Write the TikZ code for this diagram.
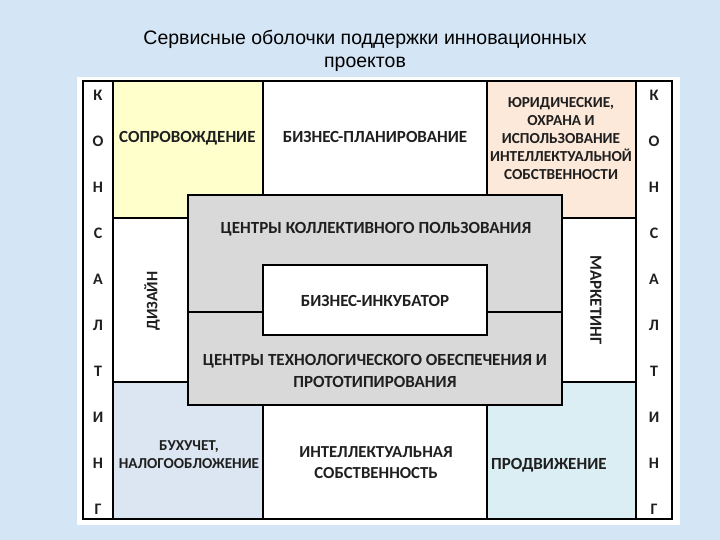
\documentclass[tikz,border=0pt]{standalone}
\usepackage{fontspec}
\setmainfont{Carlito}
\newfontfamily\titlefont{Liberation Sans}
\definecolor{bgblue}{RGB}{212,229,246}
\definecolor{cyellow}{RGB}{255,255,204}
\definecolor{cpeach}{RGB}{253,233,217}
\definecolor{cbluegray}{RGB}{220,230,242}
\definecolor{ccyan}{RGB}{218,238,243}
\definecolor{cgray}{RGB}{217,217,217}
\tikzset{
  cell/.style={draw=black, line width=2pt, inner sep=0pt, outer sep=0pt, rectangle},
  grayblock/.style={cell, fill=cgray, line width=2.5pt},
  lbl/.style={font=\bfseries\fontsize{17}{20}\selectfont, text=black!88, inner sep=0pt, align=center},
  letter/.style={font=\bfseries\fontsize{16}{18}\selectfont, text=black!88, inner sep=0pt},
}
\begin{document}
\begin{tikzpicture}[x=1pt,y=-1pt]
\useasboundingbox (0,0) rectangle (720,540);
\fill[bgblue] (0,0) rectangle (720,540);
% title
\node[font=\titlefont\fontsize{19.5}{23.5}\selectfont, align=center, inner sep=0pt] (title) at (365,51)
  {Сервисные оболочки поддержки инновационных\\проектов};
% white frame
\node[rectangle, fill=white, inner sep=0pt, minimum width=603pt, minimum height=448pt] (frame) at (378.5,301) {};
% outer border with consulting columns
\node[cell, minimum width=589pt, minimum height=438pt] (border) at (377.5,300) {};
\node[cell, minimum width=30pt, minimum height=438pt] (lcol) at (98,300) {};
\node[cell, minimum width=36pt, minimum height=438pt] (rcol) at (654,300) {};
% top row
\node[cell, fill=cyellow, minimum width=150pt, minimum height=137pt] (sopr) at (188,149.5) {};
\node[cell, fill=white, minimum width=224pt, minimum height=137pt] (bplan) at (375,149.5) {};
\node[cell, fill=cpeach, minimum width=149pt, minimum height=137pt] (jur) at (561.5,149.5) {};
% middle row
\node[cell, fill=white, minimum width=150pt, minimum height=164pt] (diz) at (188,300) {};
\node[cell, fill=white, minimum width=149pt, minimum height=164pt] (mark) at (561.5,300) {};
% bottom row
\node[cell, fill=cbluegray, minimum width=150pt, minimum height=137pt] (buh) at (188,450.5) {};
\node[cell, fill=white, minimum width=224pt, minimum height=137pt] (intel) at (375,450.5) {};
\node[cell, fill=ccyan, minimum width=149pt, minimum height=137pt] (prod) at (561.5,450.5) {};
% central gray blocks
\node[grayblock, minimum width=374pt, minimum height=117pt] (ckp) at (375,253.5) {};
\node[grayblock, minimum width=374pt, minimum height=93pt] (cto) at (375,358.5) {};
\node[cell, fill=white, line width=2.5pt, minimum width=224pt, minimum height=70pt] (inc) at (375,300) {};
% labels
\node[lbl, anchor=west] (tsopr) at (119,138) {СОПРОВОЖДЕНИЕ};
\node[lbl] (tbplan) at (375,137) {БИЗНЕС-ПЛАНИРОВАНИЕ};
\node[lbl, font=\bfseries\fontsize{15.3}{17.8}\selectfont] (tjur) at (561,138.5)
  {ЮРИДИЧЕСКИЕ,\\ОХРАНА И\\ИСПОЛЬЗОВАНИЕ\\ИНТЕЛЛЕКТУАЛЬНОЙ\\СОБСТВЕННОСТИ};
\node[lbl, font=\bfseries\fontsize{16}{20}\selectfont, rotate=90] (tdiz) at (152,301) {ДИЗАЙН};
\node[lbl, rotate=-90] (tmark) at (596,300) {МАРКЕТИНГ};
\node[lbl] (tckp) at (376,229) {ЦЕНТРЫ КОЛЛЕКТИВНОГО ПОЛЬЗОВАНИЯ};
\node[lbl] (tinc) at (375,301) {БИЗНЕС-ИНКУБАТОР};
\node[lbl, font=\bfseries\fontsize{17}{22}\selectfont] (tcto) at (375,371)
  {ЦЕНТРЫ ТЕХНОЛОГИЧЕСКОГО ОБЕСПЕЧЕНИЯ И\\ПРОТОТИПИРОВАНИЯ};
\node[lbl, font=\bfseries\fontsize{15.2}{18}\selectfont] (tbuh) at (189,455) {БУХУЧЕТ,\\НАЛОГООБЛОЖЕНИЕ};
\node[lbl, font=\bfseries\fontsize{16.8}{21}\selectfont] (tintel) at (376,463) {ИНТЕЛЛЕКТУАЛЬНАЯ\\СОБСТВЕННОСТЬ};
\node[lbl, anchor=west] (tprod) at (491,465) {ПРОДВИЖЕНИЕ};
% consulting letters
\foreach \ch [count=\i from 0] in {К,О,Н,С,А,Л,Т,И,Н,Г}{
  \node[letter] (l\i) at (98,95+46*\i) {\ch};
  \node[letter] (r\i) at (654,95+46*\i) {\ch};
}
\end{tikzpicture}
\end{document}
